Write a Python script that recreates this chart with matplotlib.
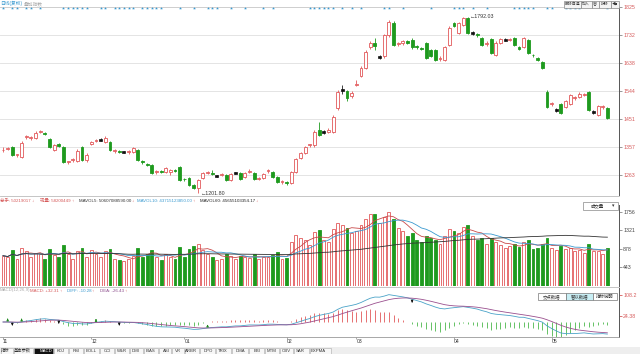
import matplotlib
matplotlib.use('Agg')
import matplotlib.pyplot as plt
from matplotlib.patches import Rectangle
import numpy as np
import pandas as pd

# ---------------- data ----------------
opens = [1345,1350,1357,1330,1324,1390,1386,1388,1407,1402,1384,1347,1366,1357,1306,1312,1310,1357,1313,
         1368,1376,1380,1373,1374,1344,1341,1340,1339,1340,1347,1308,1298,1297,1272,1273,1273,1272,1278,1290,
         1250,1253,1230,1218,1253,1270,1266,1260,1262,1263,1246,1270,1270,1256,1274,1270,1250,1253,1275,1273,1256,1240,
         1237,1236,1273,1320,1337,1363,1362,1413,1407,1408,1407,1487,1547,1544,1527,
         1565,1594,1621,1692,1705,1658,1660,1731,1771,1700,1703,1710,1716,1692,1686,1705,1680,1681,1650,1648,1698,
         1771,1738,1765,1788,1738,1732,1721,1700,1718,1664,1705,1715,1714,1721,1691,1691,1715,1664,1654,1640,
         1541,1500,1480,1500,1490,1500,1520,1525,1530,1541,1474,1464,1490,1487]
highs = [1356,1358,1360,1334,1376,1397,1392,1410,1415,1406,1388,1368,1370,1360,1311,1320,1350,1360,1336,
         1378,1384,1386,1392,1378,1350,1346,1344,1345,1356,1350,1314,1302,1300,1280,1278,1290,1282,1283,1293,
         1254,1256,1233,1250,1274,1276,1280,1264,1268,1266,1270,1274,1273,1273,1282,1272,1256,1270,1282,1276,1258,1245,
         1242,1276,1321,1340,1360,1368,1412,1440,1412,1420,1462,1546,1565,1548,1545,
         1580,1626,1680,1710,1720,1664,1736,1780,1778,1708,1716,1714,1720,1698,1692,1708,1684,1685,1660,1696,1760,
         1776,1775,1790,1792.03,1744,1738,1725,1710,1722,1710,1722,1720,1720,1725,1695,1726,1718,1668,1658,1644,
         1546,1506,1486,1504,1514,1534,1528,1540,1536,1545,1480,1498,1496,1490]
lows = [1340,1346,1326,1322,1320,1385,1380,1385,1402,1396,1352,1342,1356,1302,1300,1306,1306,1310,1308,
        1362,1372,1376,1370,1343,1338,1335,1336,1334,1336,1309,1300,1292,1266,1266,1268,1270,1262,1273,1243,
        1244,1226,1216,1201.8,1250,1265,1262,1256,1258,1242,1243,1266,1247,1253,1270,1247,1246,1250,1271,1253,1237,1234,
        1228,1232,1270,1316,1333,1358,1358,1394,1400,1404,1403,1482,1535,1510,1520,
        1560,1590,1616,1686,1680,1650,1655,1726,1695,1694,1698,1702,1686,1685,1680,1650,1658,1644,1645,1644,1694,
        1758,1734,1760,1734,1732,1724,1694,1696,1667,1660,1700,1710,1710,1694,1681,1688,1667,1658,1644,1616,
        1488,1494,1474,1466,1486,1496,1514,1520,1526,1476,1466,1460,1484,1450]
closes = [1348,1352,1330,1332,1371,1391,1388,1405,1408,1400,1357,1364,1360,1307,1308,1314,1344,1313,1330,
          1374,1378,1380,1387,1347,1345,1340,1340,1341,1352,1313,1306,1296,1270,1273,1272,1286,1278,1277,1246,
          1248,1230,1220,1246,1270,1271,1265,1260,1263,1246,1266,1270,1250,1270,1275,1250,1251,1266,1277,1256,1240,1241,
          1236,1272,1317,1337,1357,1364,1407,1397,1407,1412,1457,1541,1547,1521,1538,
          1568,1621,1675,1705,1695,1658,1731,1775,1698,1702,1712,1706,1690,1690,1684,1654,1662,1648,1655,1691,1755,
          1762,1771,1788,1738,1738,1730,1698,1705,1671,1705,1718,1715,1716,1698,1685,1721,1671,1663,1648,1620,
          1492,1502,1480,1470,1510,1530,1524,1535,1532,1480,1474,1494,1491,1454]
volumes = [720,680,860,640,900,820,700,780,760,650,880,740,700,980,760,640,820,900,700,
           850,760,700,820,880,650,620,600,640,720,900,700,760,860,680,620,760,700,640,920,
           700,880,940,1000,860,760,700,620,640,760,720,640,720,700,660,760,640,700,680,740,800,640,
           660,1050,1220,1150,1100,980,1280,1320,1100,1050,1350,1500,1450,1380,1250,
           1300,1450,1600,1700,1720,1500,1650,1756,1600,1380,1300,1200,1250,1100,1050,1200,1150,1100,1000,1200,1350,
           1300,1250,1400,1450,1200,1100,1150,1000,1150,1050,980,900,950,1000,920,1050,1100,880,900,1000,
           1150,900,850,950,880,900,820,860,780,1000,820,840,760,900]
month_labels = ['11', '12', '01', '02', '03', '04', '05']
month_pos = [0, 19, 39, 61, 76, 97, 118]
price_ticks = [1263, 1357, 1451, 1544, 1638, 1732, 1825]
vol_ticks = [443, 878, 1321, 1756]
macd_ticks = [24.38, 108.2]
macd_tick_labels = ['24.38', '108.2']
event_idx = [0,2,3,5,6,8,13,14,15,16,17,18,21,22,24,25,26,27,28,30,31,32,33,34,38,41,44,45,46,
             49,52,56,58,66,67,68,69,70,71,73,75,77,82,83,86,92,97,98,99,101,104,110,111,112,113,114,
             117,118,121,122,123,124,130]
high_label = '←1792.03'
low_label = '←1201.80'
tabs = ['指标', '基本参数', 'MACD', 'KDJ', 'RSI', 'BOLL', 'CCI', 'W&R', 'DMI', 'BIAS', 'ASI', 'VR',
        'ARBR', 'DPO', 'TRIX', 'DMA', 'BBI', 'MTM', 'OBV', 'SAR', 'EXPMA']

# ---------------- style ----------------
RED = '#e2585a'
GREEN = '#1e9a1e'
TXT_RED = '#d65a5a'
BLUE = '#3a9ad0'
plt.rcParams['font.family'] = ['Liberation Sans', 'Noto Sans CJK SC', 'DejaVu Sans']

W, H = 640, 354
fig = plt.figure(figsize=(W / 100, H / 100), dpi=100)
fig.patch.set_facecolor('white')


def rect(x0, y0, x1, y1):
    return [x0 / W, 1 - y1 / H, (x1 - x0) / W, (y1 - y0) / H]


def fx(x):
    return x / W


def fy(y):
    return 1 - y / H


n = len(closes)
idx = np.arange(n)
o = np.array(opens, float)
c = np.array(closes, float)
hi = np.array(highs, float)
lo = np.array(lows, float)
v = np.array(volumes, float)
XL = (-0.65, 132.5)
BW = 0.62
LS = 3.8  # axis label size

# ---------------- main price panel ----------------
ax = fig.add_axes(rect(0, 7, 619, 195))
ax.set_xlim(*XL)
ax.set_ylim(1196, 1825)
for t in price_ticks:
    ax.axhline(t, color='#e4e4e4', lw=0.7, zorder=0)
up = c > o
dn = c < o
fl = c == o
minh = 3.0
ax.vlines(idx[up], lo[up], hi[up], color=RED, lw=0.6, zorder=1)
ax.vlines(idx[dn], lo[dn], hi[dn], color=GREEN, lw=0.6, zorder=1)
ax.vlines(idx[fl], lo[fl], hi[fl], color='#222222', lw=0.6, zorder=1)
bot = np.minimum(o, c)
hgt = np.maximum(np.abs(c - o), minh)
ax.bar(idx[up], hgt[up], bottom=bot[up], width=BW, facecolor='white', edgecolor=RED, lw=0.6, zorder=2)
ax.bar(idx[dn], hgt[dn], bottom=bot[dn], width=BW, facecolor=GREEN, edgecolor=GREEN, lw=0.6, zorder=2)
ax.bar(idx[fl], np.full(fl.sum(), 5.0), bottom=bot[fl] - 2.5, width=BW, facecolor='#111111',
       edgecolor='#111111', lw=0.5, zorder=2)
imax = int(np.argmax(hi))
imin = int(np.argmin(lo))
ax.text(imax + 0.5, hi[imax], high_label, fontsize=3.8, va='center', ha='left', color='#333333')
ax.text(imin + 0.5, lo[imin], low_label, fontsize=3.8, va='center', ha='left', color='#333333')
ax.scatter(event_idx, np.full(len(event_idx), 1820.0), marker='*', s=5, color=BLUE, lw=0, zorder=3,
           clip_on=False)
ax.set_yticks(price_ticks)
ax.yaxis.tick_right()
ax.tick_params(axis='y', length=2, width=0.6, color='#888888', labelsize=LS, labelcolor=TXT_RED, pad=1)
ax.set_xticks([])
for s in ['left', 'bottom']:
    ax.spines[s].set_visible(False)
ax.spines['top'].set_color('#cccccc')
ax.spines['top'].set_linewidth(0.6)
ax.spines['right'].set_color('#555555')
ax.spines['right'].set_linewidth(0.7)

# ---------------- volume panel ----------------
av = fig.add_axes(rect(0, 205, 619, 286))
av.set_xlim(*XL)
av.set_ylim(0, 1925)
av.bar(idx[c >= o], v[c >= o], width=BW, facecolor='white', edgecolor=RED, lw=0.6)
av.bar(idx[c < o], v[c < o], width=BW, facecolor=GREEN, edgecolor=GREEN, lw=0.6)
vs = pd.Series(v)
av.plot(idx, vs.rolling(5, min_periods=1).mean(), color='#c94a4a', lw=0.6)
av.plot(idx, vs.rolling(10, min_periods=1).mean(), color=BLUE, lw=0.6)
av.plot(idx, vs.rolling(60, min_periods=1).mean(), color='#333333', lw=0.6)
av.set_yticks(vol_ticks)
av.yaxis.tick_right()
av.tick_params(axis='y', length=2, width=0.6, color='#888888', labelsize=LS, labelcolor='#444444', pad=1)
av.set_xticks([])
for s in ['left', 'bottom', 'top']:
    av.spines[s].set_visible(False)
av.spines['right'].set_color('#555555')
av.spines['right'].set_linewidth(0.7)

# ---------------- MACD panel ----------------
am = fig.add_axes(rect(0, 288, 619, 337))
am.set_xlim(*XL)
am.set_ylim(-60, 136)
cs = pd.Series(c)
diff = cs.ewm(span=12, adjust=False).mean() - cs.ewm(span=26, adjust=False).mean()
dea = diff.ewm(span=9, adjust=False).mean()
macd = 2 * (diff - dea)
mv = macd.values
am.vlines(idx[mv >= 0], 0, mv[mv >= 0], color=RED, lw=0.6)
am.vlines(idx[mv < 0], 0, mv[mv < 0], color='#4cb84c', lw=0.6)
am.plot(idx, diff, color='#4aa3c8', lw=0.6)
am.plot(idx, dea, color='#9a4f8e', lw=0.6)
dv = diff.values
ev = dea.values
for i in range(1, n):
    if dv[i - 1] <= ev[i - 1] and dv[i] > ev[i]:
        am.annotate('', xy=(i, dv[i] + 14), xytext=(i, dv[i] - 2),
                    arrowprops=dict(arrowstyle='-|>', color='#1e8a1e', lw=0.6, mutation_scale=3))
    elif dv[i - 1] >= ev[i - 1] and dv[i] < ev[i]:
        am.annotate('', xy=(i, dv[i] - 14), xytext=(i, dv[i] + 2),
                    arrowprops=dict(arrowstyle='-|>', color='#111111', lw=0.6, mutation_scale=3))
am.set_yticks(macd_ticks)
am.set_yticklabels(macd_tick_labels)
am.yaxis.tick_right()
am.tick_params(axis='y', length=2, width=0.6, color=TXT_RED, labelsize=LS, labelcolor=TXT_RED, pad=1)
am.set_xticks(month_pos)
am.set_xticklabels(month_labels)
am.tick_params(axis='x', length=1.2, width=0.5, color='#888888', labelsize=3.6, labelcolor='#333333', pad=0.2)
for lab in am.get_xticklabels():
    lab.set_horizontalalignment('left')
for s in ['left', 'top']:
    am.spines[s].set_visible(False)
am.spines['bottom'].set_color('#999999')
am.spines['bottom'].set_linewidth(0.6)
am.spines['right'].set_color('#555555')
am.spines['right'].set_linewidth(0.7)

# separators
for yy in [196, 287]:
    fig.add_artist(plt.Line2D([0, fx(619)], [fy(yy), fy(yy)], color='#bbbbbb', lw=0.6))

# ---------------- header texts ----------------
fig.text(fx(0), fy(3.5), '日线(复权)', color=BLUE, fontsize=3.4, va='center')
fig.text(fx(24), fy(3.5), '叠加指数', color='#aaaaaa', fontsize=3.4, va='center')
btns = [(564, 580.5, '删除自选'), (580.5, 591.5, '加入'), (591.5, 598.5, '窗'), (598.5, 610.5, '拆除'),
        (610.5, 619, '◀■')]
for x0, x1, t in btns:
    fig.add_artist(Rectangle((fx(x0), fy(7.5)), fx(x1 - x0), 7 / H, facecolor='#f4f4f4',
                             edgecolor='#888888', lw=0.5))
    fig.text(fx((x0 + x1) / 2), fy(4), t, fontsize=2.8, ha='center', va='center', color='#333333')

r = fig.canvas.get_renderer()


def seq_text(x, y, parts, size):
    for t, col in parts:
        tt = fig.text(fx(x), fy(y), t, color=col, fontsize=size, va='center')
        bb = tt.get_window_extent(renderer=r)
        x += bb.width + 0.3


# volume legend
vol_leg = [(0, [('总手: 50219017', TXT_RED), ('↓', TXT_RED)]),
           (40, [('现量: 58200449', TXT_RED), ('↑', TXT_RED)]),
           (79, [('MAVOL5: 50607088590.00', '#333333'), ('↓', TXT_RED)]),
           (137, [('MAVOL10: 43715123850.00', BLUE), ('↑', TXT_RED)]),
           (200, [('MAVOL60: 45655103354.17', '#222222'), ('↓', TXT_RED)])]
for x0, parts in vol_leg:
    seq_text(x0, 200.5, parts, 3.2)
fig.add_artist(Rectangle((fx(583), fy(210)), fx(35), 8 / H, facecolor='white', edgecolor='#888888', lw=0.5))
fig.text(fx(597), fy(206), '成交量', fontsize=3.2, ha='center', va='center', color='#333333')
fig.text(fx(613), fy(206), '▾', fontsize=3.5, ha='center', va='center', color='#333333')

macd_leg = [(0, [('MACD(12,26,9)', '#aaaaaa')]),
            (30, [('MACD: +32.31', TXT_RED), ('↑', TXT_RED)]),
            (67, [('DIFF: -10.28', BLUE), ('↑', TXT_RED)]),
            (100, [('DEA: -26.43', '#8a4a8a'), ('↑', TXT_RED)])]
for x0, parts in macd_leg:
    seq_text(x0, 290.5, parts, 3.2)
mb = [(538, 566, '交点数据', 'white'), (566, 593, '智以数据', '#c8eef4'), (593, 617, '指标说明', 'white')]
for x0, x1, t, fc in mb:
    fig.add_artist(Rectangle((fx(x0), fy(300)), fx(x1 - x0), 7 / H, facecolor=fc, edgecolor='#777777', lw=0.5))
    fig.text(fx((x0 + x1) / 2), fy(296.5), t, fontsize=3.2, ha='center', va='center', color='#333333')

# ---------------- bottom tab bar ----------------
fig.add_artist(Rectangle((0, 0), 1, fy(346.5), facecolor='#eeeeee', edgecolor='none', zorder=-5))
tab_cx = [5, 22, 45.5, 61, 76, 91, 107, 122, 136, 150, 166, 177.5, 191, 208, 223, 240, 257, 272, 286, 300, 318]
edges = [0] + [(tab_cx[k] + tab_cx[k + 1]) / 2 for k in range(len(tab_cx) - 1)] + [331]
for k, t in enumerate(tabs):
    sel = t == 'MACD'
    x0, x1 = edges[k] + 0.5, edges[k + 1] - 0.5
    fig.add_artist(Rectangle((fx(x0), fy(353.5)), fx(x1 - x0), 6 / H,
                             facecolor='#111111' if sel else '#f7f7f7', edgecolor='#aaaaaa', lw=0.4,
                             zorder=-1))
    fig.text(fx(tab_cx[k]), fy(350.5), t, fontsize=3.1, ha='center', va='center',
             color='white' if sel else '#333333')

fig.savefig('out.png', dpi=100, facecolor='white')
